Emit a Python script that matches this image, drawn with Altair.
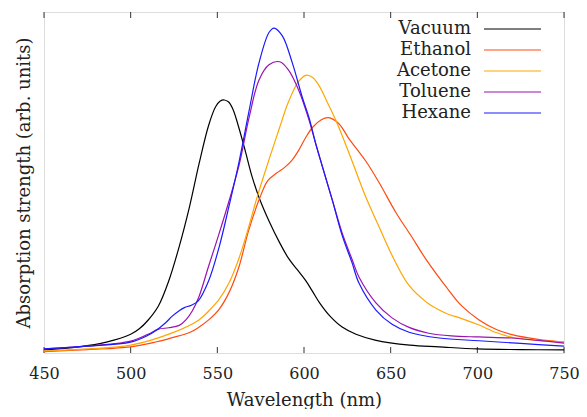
import altair as alt
import pandas as pd

names = ["Vacuum", "Ethanol", "Acetone", "Toluene", "Hexane"]
colors = ["#000000", "#ff4a10", "#ffa500", "#9a12b0", "#1a1aff"]

vac_wl = [450, 470, 486, 500, 505, 510, 516, 522, 528, 534, 539.5, 545, 549, 551.5, 554, 556.5, 559, 562, 566, 570, 574, 580, 586, 591, 596, 601, 605, 609, 615, 622, 630, 641, 661, 678, 700, 725, 750]
vac_v = [0.009, 0.018, 0.032, 0.055, 0.071, 0.096, 0.138, 0.212, 0.312, 0.43, 0.556, 0.668, 0.722, 0.738, 0.742, 0.736, 0.715, 0.668, 0.595, 0.518, 0.457, 0.385, 0.323, 0.278, 0.245, 0.212, 0.18, 0.147, 0.108, 0.076, 0.055, 0.038, 0.023, 0.018, 0.012, 0.010, 0.009]

eth_wl = [450, 475, 500, 515, 524, 534, 539.5, 545, 551, 557, 562.5, 568, 574.5, 579, 584, 589, 593, 597, 601, 605, 610, 614, 620, 626, 635.6, 643.3, 653, 662.5, 670.2, 682, 691, 701, 711, 720, 735, 750]
eth_v = [0.004, 0.01, 0.018, 0.033, 0.045, 0.06, 0.076, 0.097, 0.128, 0.18, 0.253, 0.358, 0.455, 0.505, 0.527, 0.545, 0.565, 0.595, 0.632, 0.662, 0.684, 0.69, 0.673, 0.628, 0.563, 0.5, 0.412, 0.338, 0.276, 0.194, 0.138, 0.097, 0.069, 0.054, 0.04, 0.032]

ace_wl = [450, 475, 500, 524, 539.4, 545.2, 551, 556.7, 562.5, 568, 573, 580, 585.6, 591, 597, 601.5, 605, 608.6, 613, 618.3, 626, 635.6, 643.3, 651.9, 660.6, 670.4, 678, 683.6, 691, 701, 710.8, 720, 735, 750]
ace_v = [0.006, 0.012, 0.023, 0.059, 0.097, 0.124, 0.157, 0.205, 0.278, 0.368, 0.458, 0.57, 0.656, 0.736, 0.797, 0.815, 0.808, 0.785, 0.74, 0.683, 0.586, 0.458, 0.37, 0.275, 0.198, 0.15, 0.126, 0.113, 0.101, 0.082, 0.06, 0.046, 0.037, 0.032]

tol_wl = [450, 475, 500, 510, 516, 522, 528, 532, 535.6, 539.4, 545, 551, 556.7, 562.5, 568.3, 574, 579.8, 586, 591, 597, 602.9, 606.7, 611, 616.3, 622, 627.7, 631.7, 641.5, 650.8, 660.6, 672, 685, 701, 720, 735, 750]
tol_v = [0.012, 0.02, 0.035, 0.055, 0.07, 0.074, 0.081, 0.098, 0.124, 0.165, 0.255, 0.35, 0.445, 0.55, 0.69, 0.8, 0.845, 0.854, 0.83, 0.77, 0.683, 0.615, 0.54, 0.449, 0.352, 0.275, 0.223, 0.147, 0.103, 0.075, 0.058, 0.05, 0.047, 0.044, 0.037, 0.029]

hex_wl = [450, 475, 500, 510, 514.6, 520, 524, 528, 531, 535, 539, 545, 551, 556.7, 562.5, 568.3, 574, 579.8, 582.7, 587.5, 593.3, 599, 602.9, 606.7, 611, 616.3, 622, 627.7, 631.7, 641.5, 650.8, 660.6, 678, 701, 725, 750]
hex_v = [0.012, 0.02, 0.032, 0.052, 0.066, 0.088, 0.108, 0.124, 0.133, 0.14, 0.153, 0.212, 0.31, 0.43, 0.56, 0.71, 0.85, 0.94, 0.953, 0.93, 0.85, 0.75, 0.69, 0.615, 0.54, 0.449, 0.345, 0.265, 0.205, 0.126, 0.084, 0.061, 0.044, 0.036, 0.028, 0.02]

x_ticks = [450, 500, 550, 600, 650, 700, 750]

series = [(names[0], vac_wl, vac_v), (names[1], eth_wl, eth_v), (names[2], ace_wl, ace_v),
          (names[3], tol_wl, tol_v), (names[4], hex_wl, hex_v)]
rows = []
for n, wl, vals in series:
    for w, v in zip(wl, vals):
        rows.append({"series": n, "wl": w, "val": v, "order": names.index(n)})
df = pd.DataFrame(rows)
ticks_df = pd.DataFrame({"t": x_ticks})
legend_df = pd.DataFrame({"series": names})

FONT = "DejaVu Serif"
W, H = 520, 341

xscale = alt.Scale(domain=[450, 750], nice=False, zero=False)
yscale = alt.Scale(domain=[0, 1], nice=False, zero=False)
cscale = alt.Scale(domain=names, range=colors)
legend_y = alt.Y("series:N", scale=alt.Scale(type="point", domain=names, range=[17, 101], padding=0),
                 axis=None)

lines = alt.Chart(df).mark_line(strokeWidth=1.2, interpolate="catmull-rom").encode(
    x=alt.X("wl:Q", scale=xscale,
            axis=alt.Axis(title="Wavelength (nm)", values=x_ticks, ticks=False, domain=False,
                          grid=False, labelFont=FONT, labelFontSize=16, labelColor="#222",
                          labelPadding=12, labelFlush=False, titleFont=FONT, titleFontSize=18,
                          titleFontWeight="normal", titleColor="#222", titleY=52,
                          titleBaseline="alphabetic")),
    y=alt.Y("val:Q", scale=yscale,
            axis=alt.Axis(title="Absorption strength (arb. units)", ticks=False, labels=False,
                          domain=False, grid=False, titleFont=FONT, titleFontSize=18,
                          titleFontWeight="normal", titleColor="#222", titleX=-15, titleY=H / 2,
                          titleBaseline="alphabetic", titleAngle=270)),
    color=alt.Color("series:N", scale=cscale, legend=None),
    order=alt.Order("order:Q"),
)

bottom_ticks = alt.Chart(ticks_df).mark_rule(color="#333", strokeWidth=1).encode(
    x=alt.X("t:Q", scale=xscale), y=alt.value(H), y2=alt.value(H - 6))
top_ticks = alt.Chart(ticks_df).mark_rule(color="#333", strokeWidth=1).encode(
    x=alt.X("t:Q", scale=xscale), y=alt.value(0), y2=alt.value(6))

leg_text = alt.Chart(legend_df).mark_text(align="right", baseline="middle", font=FONT,
                                          fontSize=18, color="#222").encode(
    x=alt.value(427), y=legend_y, text="series:N")
leg_lines = alt.Chart(legend_df).mark_rule(strokeWidth=1.2).encode(
    x=alt.value(440), x2=alt.value(497), y=legend_y,
    color=alt.Color("series:N", scale=cscale, legend=None))

chart = alt.layer(bottom_ticks, top_ticks, lines, leg_text, leg_lines).resolve_scale(
    y="independent"
).properties(
    width=W, height=H,
    autosize=alt.AutoSizeParams(type="none"),
    padding={"left": 36, "top": 4, "right": 15, "bottom": 56},
).configure_view(stroke="#333", strokeWidth=1.3).configure(background="white")

chart.save("out.html", embed_options={"renderer": "svg", "actions": False})
